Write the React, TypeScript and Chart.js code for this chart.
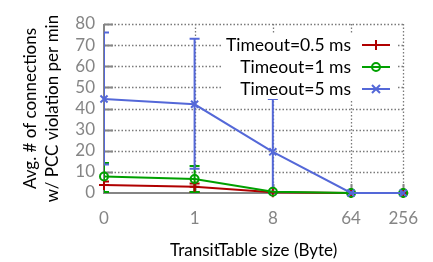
import { useEffect, useRef } from 'react';
import { Chart, registerables } from 'chart.js';

Chart.register(...registerables);

// ---- data ----
const sizeLabels = ['0', '1', '8', '64', '256'];
// position on the log axis; "0" is placed at 0.09
const sizePositions = [0.09, 1, 8, 64, 256];

const seriesNames = ['Timeout=0.5 ms', 'Timeout=1 ms', 'Timeout=5 ms'];

const t05Mean = [3.8, 3.0, 0.3, 0, 0];
const t05Low = [0.5, 0.5, 0.3, 0, 0];
const t05High = [5.5, 4.5, 0.3, 0, 0];

const t1Mean = [7.8, 6.6, 0.6, 0, 0];
const t1Low = [0.5, 0.5, 0.6, 0, 0];
const t1High = [14.2, 12.8, 0.6, 0, 0];

const t5Mean = [44.5, 42, 19.5, 0, 0];
const t5Low = [13.5, 11.5, 0, 0, 0];
const t5High = [76, 73, 44.5, 0, 0];

const yTicks = [0, 10, 20, 30, 40, 50, 60, 70, 80];

const colors = ['#b00000', '#00a000', '#5468d8'];
const FONT = 'Lato, "DejaVu Sans", sans-serif';
const GRAY = '#858585';
const GRID = '#7a7a7a';

const errLows = [t05Low, t1Low, t5Low];
const errHighs = [t05High, t1High, t5High];
const means = [t05Mean, t1Mean, t5Mean];
const pointStyles = ['cross', 'circle', 'crossRot'];

function drawSymbol(ctx: CanvasRenderingContext2D, style: string, cx: number, cy: number) {
  ctx.beginPath();
  if (style === 'cross') {
    ctx.moveTo(cx - 5, cy); ctx.lineTo(cx + 5, cy);
    ctx.moveTo(cx, cy - 5); ctx.lineTo(cx, cy + 5);
  } else if (style === 'circle') {
    ctx.arc(cx, cy, 4, 0, Math.PI * 2);
  } else {
    ctx.moveTo(cx - 4, cy - 4); ctx.lineTo(cx + 4, cy + 4);
    ctx.moveTo(cx - 4, cy + 4); ctx.lineTo(cx + 4, cy - 4);
  }
  ctx.stroke();
}

const overlay = {
  id: 'overlay',
  beforeDatasetsDraw(chart: any) {
    const { ctx, chartArea: a, scales } = chart;
    const x = scales.x, y = scales.y;
    ctx.save();
    // dotted grid
    ctx.strokeStyle = GRID;
    ctx.lineWidth = 1.3;
    ctx.setLineDash([1.5, 2]);
    ctx.beginPath();
    yTicks.forEach((v) => {
      if (v === 0) return;
      const py = Math.round(y.getPixelForValue(v)) + 0.5;
      ctx.moveTo(a.left, py);
      ctx.lineTo(a.right, py);
    });
    sizePositions.forEach((v, i) => {
      if (i === 0) return;
      const px = Math.round(x.getPixelForValue(v)) + 0.5;
      ctx.moveTo(px, a.top);
      ctx.lineTo(px, a.bottom);
    });
    ctx.stroke();
    ctx.setLineDash([]);

    // axes (solid)
    ctx.strokeStyle = GRAY;
    ctx.lineWidth = 2;
    ctx.beginPath();
    ctx.moveTo(a.left, a.top);
    ctx.lineTo(a.left, a.bottom);
    ctx.lineTo(a.right, a.bottom);
    ctx.stroke();
    // inward tick marks
    ctx.beginPath();
    yTicks.forEach((v) => {
      if (v === 0) return;
      const py = Math.round(y.getPixelForValue(v)) + 0.5;
      ctx.moveTo(a.left, py);
      ctx.lineTo(a.left + 9, py);
    });
    sizePositions.forEach((v, i) => {
      if (i === 0) return;
      const px = Math.round(x.getPixelForValue(v)) + 0.5;
      ctx.moveTo(px, a.bottom);
      ctx.lineTo(px, a.bottom - 9);
    });
    ctx.stroke();

    // error bars
    ctx.beginPath();
    ctx.rect(a.left, a.top - 10, a.right - a.left + 10, a.bottom - a.top + 20);
    ctx.clip();
    ctx.lineWidth = 2;
    for (let s = 0; s < 3; s++) {
      ctx.strokeStyle = colors[s];
      for (let i = 0; i < sizePositions.length; i++) {
        const lo = errLows[s][i], hi = errHighs[s][i];
        if (hi - lo < 0.01) continue;
        const px = x.getPixelForValue(sizePositions[i]);
        const pl = y.getPixelForValue(lo);
        const ph = y.getPixelForValue(hi);
        ctx.beginPath();
        ctx.moveTo(px, pl); ctx.lineTo(px, ph);
        ctx.moveTo(px - 5, pl); ctx.lineTo(px + 5, pl);
        ctx.moveTo(px - 5, ph); ctx.lineTo(px + 5, ph);
        ctx.stroke();
      }
    }
    ctx.restore();
  },
  afterDatasetsDraw(chart: any) {
    const { ctx } = chart;
    ctx.save();
    // legend box
    ctx.fillStyle = '#ffffff';
    ctx.fillRect(222, 34, 174, 65);
    ctx.font = `17.5px ${FONT}`;
    ctx.textAlign = 'right';
    ctx.textBaseline = 'middle';
    ctx.lineWidth = 2;
    seriesNames.forEach((name, i) => {
      const ry = 45 + i * 22;
      ctx.fillStyle = '#000000';
      ctx.fillText(name, 351, ry);
      ctx.strokeStyle = colors[i];
      ctx.beginPath();
      ctx.moveTo(362, ry);
      ctx.lineTo(390, ry);
      ctx.stroke();
      drawSymbol(ctx, pointStyles[i], 376, ry);
    });
    ctx.restore();
  },
};

export default function App() {
  const ref = useRef<HTMLCanvasElement | null>(null);
  useEffect(() => {
    if (!ref.current) return;
    const datasets = means.map((m, i) => ({
      label: seriesNames[i],
      data: m.map((v, j) => ({ x: sizePositions[j], y: v })),
      borderColor: colors[i],
      backgroundColor: 'rgba(0,0,0,0)',
      borderWidth: 2,
      pointStyle: pointStyles[i] as any,
      pointRadius: i === 1 ? 4 : 5,
      pointBorderWidth: 2,
      pointBorderColor: colors[i],
      pointBackgroundColor: 'rgba(0,0,0,0)',
      order: 2 - i,
      clip: false as any,
      tension: 0,
    }));
    const chart = new Chart(ref.current, {
      type: 'line',
      data: { datasets },
      plugins: [overlay],
      options: {
        animation: false,
        responsive: false,
        events: [],
        layout: { padding: { left: 0, right: 24, top: 24, bottom: 0 } },
        plugins: { legend: { display: false }, tooltip: { enabled: false } },
        scales: {
          x: {
            type: 'logarithmic',
            min: sizePositions[0],
            max: sizePositions[sizePositions.length - 1],
            bounds: 'data',
            afterBuildTicks: (scale: any) => {
              scale.ticks = sizePositions.map((v) => ({ value: v }));
            },
            afterFit: (scale: any) => {
              scale.height = 69;
            },
            ticks: {
              autoSkip: false,
              maxRotation: 0,
              padding: 15,
              color: GRAY,
              font: { family: FONT, size: 17 },
              callback: (_v: any, idx: number) => sizeLabels[idx],
            },
            grid: { display: false, drawTicks: false },
            border: { display: false },
            title: {
              display: true,
              text: 'TransitTable size (Byte)',
              color: '#000',
              font: { family: FONT, size: 17, lineHeight: '22px' },
              padding: { top: 0, bottom: 0 },
            },
          },
          y: {
            type: 'linear',
            min: 0,
            max: 80,
            afterBuildTicks: (scale: any) => {
              scale.ticks = yTicks.map((v) => ({ value: v }));
            },
            afterFit: (scale: any) => {
              scale.width = 104;
            },
            ticks: {
              autoSkip: false,
              padding: 9,
              color: GRAY,
              font: { family: FONT, size: 17 },
            },
            grid: { display: false, drawTicks: false },
            border: { display: false },
            title: {
              display: true,
              text: ['Avg. # of connections', 'w/ PCC violation per min'],
              color: '#000',
              font: { family: FONT, size: 17, lineHeight: '22px' },
              padding: { top: 20, bottom: 0 },
            },
          },
        },
      } as any,
    });
    return () => chart.destroy();
  }, []);
  return (
    <div style={{ position: 'absolute', left: 0, top: 0, width: 433, height: 262, background: '#fff' }}>
      <canvas ref={ref} width={433} height={262} style={{ display: 'block' }} />
    </div>
  );
}
